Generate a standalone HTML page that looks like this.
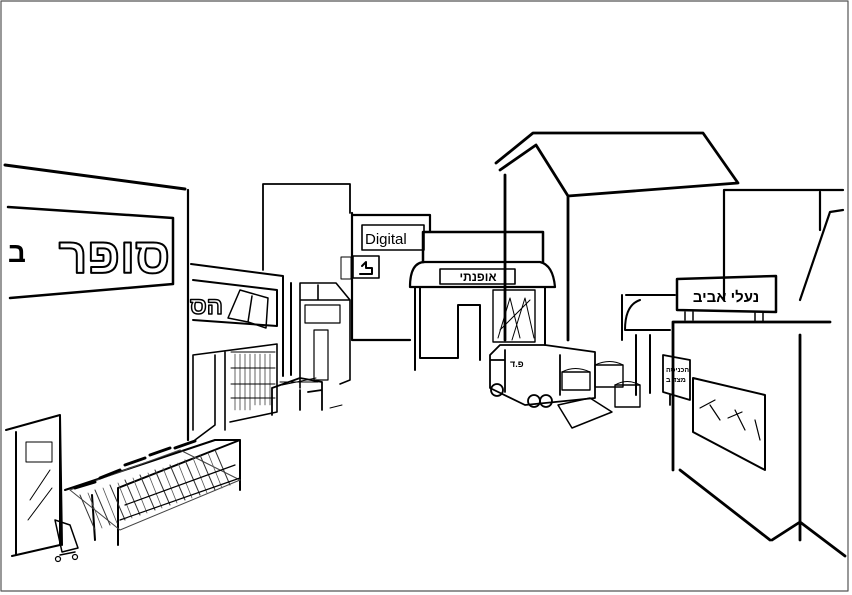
<!DOCTYPE html>
<html><head><meta charset="utf-8"><style>
html,body{margin:0;padding:0;background:#fff;width:852px;height:595px;overflow:hidden}
svg{display:block}
text{font-family:"Liberation Sans","Noto Sans CJK SC",sans-serif;font-weight:bold}
</style></head><body>
<svg width="852" height="595" viewBox="0 0 852 595" fill="none" stroke="#000" stroke-linecap="round" stroke-linejoin="round">
<rect x="1" y="1" width="847" height="590" stroke="#555" stroke-width="1.2"/>
<!-- back tall building -->
<path d="M263,270 V184 H350 V213" stroke-width="1.8"/>
<!-- left building -->
<path d="M5,165 L185,189" stroke-width="3"/>
<path d="M188,190 V440" stroke-width="2.2"/>
<path d="M8,207 L173,218 M10,298 L173,284 M173,218 V284" stroke-width="2.5"/>
<text x="170" y="273" font-size="50" text-anchor="end" fill="#fff" stroke="#000" stroke-width="2">סופר</text>
<text x="8" y="262" font-size="28" fill="#000" stroke="none">ב</text>
<!-- left door -->
<path d="M6,430 L60,415 V545 L12,556 M16,432 V555 M60,415 L62,545" stroke-width="2"/>
<rect x="26" y="442" width="26" height="20" stroke-width="1"/>
<path d="M30,500 L50,470 M28,520 L52,488" stroke-width="1"/>
<!-- second building -->
<path d="M191,264 L283,276 V376 M291,283 V375" stroke-width="2"/>
<path d="M193,280 L277,290 V326 L193,320" stroke-width="2"/>
<text x="190" y="314" font-size="24" fill="#fff" stroke="#000" stroke-width="1.5">הס</text>
<path d="M228,318 L240,290 L268,298 L266,328 L248,322 Z M248,322 L252,296" stroke-width="1.5"/>
<path d="M193,355 L277,344 V412 L230,422 M193,355 V430 M225,352 V430 M215,355 V425 L195,440" stroke-width="1.6"/>
<path d="M231,352 H275 M231,368 H275 M231,384 H275 M231,398 H275" stroke-width="1"/>
<path d="M235,354 V410 M240,354 V410 M245,354 V410 M250,354 V410 M255,354 V405 M260,354 V405 M265,354 V405 M270,354 V405" stroke-width=".6"/>
<!-- kiosk -->
<path d="M300,283 H336 L350,300 V380 L340,384 M300,283 V388 M318,285 V300 M300,300 H350" stroke-width="1.6"/>
<rect x="305" y="305" width="35" height="18" stroke-width="1.2"/>
<path d="M314,330 H328 V380 H314 Z" stroke-width="1.2"/>
<!-- table -->
<path d="M272,388 L300,378 L322,382 L322,410 M272,388 V415 M300,390 V410 M322,390 L308,392" stroke-width="1.8"/>
<path d="M280,382 L318,382 M282,385 L316,378" stroke-width="1"/>
<path d="M330,408 L342,405" stroke-width="1"/>
<!-- Digital building -->
<path d="M352,215 H430 M352,213 V340 H410 M430,215 V232" stroke-width="2.2"/>
<rect x="362" y="225" width="62" height="25" stroke-width="1.6"/>
<text x="365" y="244" font-size="15" font-family="Liberation Sans" fill="#000" stroke="none" style="font-weight:normal">Digital</text>
<rect x="353" y="256" width="26" height="22" stroke-width="1.6"/>
<path d="M360,274 H372 V268 H366 V262 L362,266" stroke-width="2"/>
<rect x="341" y="257" width="10" height="22" stroke-width="1"/>
<!-- Opti shop -->
<path d="M423,232 H543 V262 M423,232 V262" stroke-width="2.5"/>
<path d="M410,287 Q410,262 425,262 H540 Q553,265 555,287 H410 Z" stroke-width="2.2"/>
<rect x="440" y="269" width="75" height="15" stroke-width="1.6"/>
<text x="478" y="281" font-size="12" text-anchor="middle" fill="#000" stroke="none">אופנתי</text>
<path d="M415,287 V370 M420,287 V358 H458 V305 H480 V360 M545,287 V345" stroke-width="2"/>
<rect x="493" y="290" width="42" height="52" stroke-width="1.4"/>
<path d="M498,338 L510,298 L520,338 M512,340 L525,298 L534,338 M500,330 L530,300" stroke-width="1"/>
<!-- house -->
<path d="M496,163 L533,133 H703 L738,183 L568,196 L536,145 L500,170 M505,175 V340 M568,196 V340" stroke-width="2.8"/>
<!-- right back building -->
<path d="M724,190 H843 M724,190 V300 M820,192 V230 M843,210 L830,212 L800,300" stroke-width="2.2"/>
<path d="M626,295 H675 M622,295 V340 M640,300 Q625,305 625,330 H670 M636,335 V395 M650,335 V393" stroke-width="2"/>
<!-- sign -->
<path d="M677,279 L776,276 V312 L677,310 Z" stroke-width="2.5"/>
<text x="726" y="302" font-size="15" text-anchor="middle" fill="#000" stroke="none">נעלי אביב</text>
<path d="M685,312 V320 M693,312 V320 M755,313 V322 M763,313 V322" stroke-width="1.5"/>
<!-- right box -->
<path d="M673,322 L830,322 M673,322 V470 M800,335 V540 M772,540 L800,522 L845,556 M680,470 L770,540" stroke-width="2.8"/>
<path d="M693,378 L765,395 V470 L693,432 Z" stroke-width="2"/>
<path d="M710,405 L720,420 M735,410 L745,430 M755,420 L760,440 M700,408 L715,400 M728,418 L742,412" stroke-width="1.2"/>
<path d="M663,355 L690,360 V400 L663,392 Z M670,395 V405" stroke-width="1.8"/>
<text x="666" y="372" font-size="7" fill="#000" stroke="none">הכניסה</text>
<text x="666" y="382" font-size="7" fill="#000" stroke="none">מצד ב</text>
<!-- truck -->
<path d="M490,355 L500,345 H545 L595,352 V398 L525,405 L490,388 Z M505,350 V392 M560,355 V395 M490,360 L505,360" stroke-width="1.8"/>
<text x="510" y="367" font-size="9" fill="#000" stroke="none">פ.ד</text>
<circle cx="497" cy="390" r="6" stroke-width="1.8"/>
<circle cx="534" cy="401" r="6" stroke-width="1.8"/>
<circle cx="546" cy="401" r="6" stroke-width="1.8"/>
<path d="M558,405 L590,398 L612,412 L572,428 Z" stroke-width="1.5"/>
<rect x="562" y="372" width="28" height="18" stroke-width="1.4"/>
<rect x="595" y="365" width="28" height="22" stroke-width="1.4"/>
<rect x="615" y="385" width="25" height="22" stroke-width="1.4"/>
<path d="M562,372 Q575,365 590,372 M595,365 Q610,358 623,365 M615,385 Q627,378 640,385" stroke-width="1"/>
<!-- carts -->
<path d="M65,490 L215,440 H240 M240,440 V490 M118,488 L240,440 M118,488 V545 M92,495 L95,540" stroke-width="2"/>
<path d="M70,490 L180,450 L240,480 L120,530 Z" stroke-width="1" stroke="#444"/>
<path d="M80,495 L95,530 M95,490 L110,525 M110,485 L125,520 M125,480 L140,515 M140,475 L155,510 M155,470 L170,505 M170,465 L185,500 M185,460 L200,495 M200,455 L215,490 M215,450 L230,485" stroke-width="1" stroke="#333"/>
<path d="M88,493 L102,528 M103,488 L117,523 M118,483 L132,518 M133,478 L147,513 M148,473 L162,508 M163,468 L177,503 M178,463 L192,498 M193,458 L207,493 M208,453 L222,488" stroke-width=".8" stroke="#555"/>
<path d="M75,488 L95,482 M100,478 L120,470 M125,465 L145,458 M150,455 L170,448 M175,448 L195,441" stroke-width="3"/>
<path d="M120,520 L240,478 M125,505 L235,465" stroke-width="1.2"/>
<path d="M55,520 L70,525 L78,548 L62,552 Z M60,555 L75,552" stroke-width="1.5"/>
<circle cx="58" cy="559" r="2.5" stroke-width="1.2"/>
<circle cx="75" cy="557" r="2.5" stroke-width="1.2"/>
</svg>
</body></html>
